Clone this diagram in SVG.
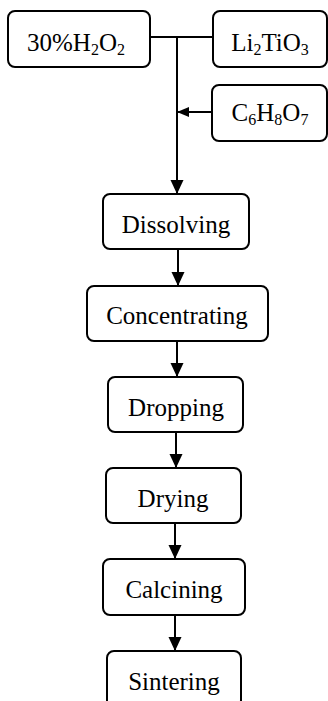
<svg xmlns="http://www.w3.org/2000/svg" width="328" height="701" viewBox="0 0 328 701">
<defs>
<style>
.box{fill:#fff;stroke:#000;stroke-width:2}
.t{font-family:"Liberation Serif","Times New Roman",serif;font-size:25px;fill:#000;text-anchor:middle}
.s{font-size:16px}
.c{stroke:#000;stroke-width:2;fill:none}
</style>
<marker id="ah" markerUnits="userSpaceOnUse" markerWidth="14" markerHeight="16" viewBox="0 0 14 16" refX="13" refY="8" orient="auto">
<path d="M0,1.5 L14,8 L0,14.5 Z" fill="#000"/>
</marker>
<marker id="ahs" markerUnits="userSpaceOnUse" markerWidth="12" markerHeight="12" viewBox="0 0 12 12" refX="11" refY="6" orient="auto">
<path d="M0,1 L12,6 L0,11 Z" fill="#000"/>
</marker>
</defs>
<rect width="328" height="701" fill="#fff"/>
<g id="connectors">
<path class="c" d="M150,37 H213"/>
<path class="c" d="M177,37 V193" marker-end="url(#ah)"/>
<path class="c" d="M212,112 H178" marker-end="url(#ahs)"/>
<path class="c" d="M178,249 V285" marker-end="url(#ah)"/>
<path class="c" d="M177,341 V376" marker-end="url(#ah)"/>
<path class="c" d="M176,432 V467" marker-end="url(#ah)"/>
<path class="c" d="M175,523 V558" marker-end="url(#ah)"/>
<path class="c" d="M175,615 V650" marker-end="url(#ah)"/>
</g>
<g id="n-h2o2">
<rect class="box" x="8" y="11" width="142" height="56" rx="7"/>
<text class="t" x="76" y="51">30%H<tspan class="s" dy="4">2</tspan><tspan dy="-4">O</tspan><tspan class="s" dy="4">2</tspan></text>
</g>
<g id="n-li2tio3">
<rect class="box" x="213" y="11" width="114" height="56" rx="7"/>
<text class="t" x="270" y="51">Li<tspan class="s" dy="4">2</tspan><tspan dy="-4">TiO</tspan><tspan class="s" dy="4">3</tspan></text>
</g>
<g id="n-c6h8o7">
<rect class="box" x="212" y="85" width="115" height="56" rx="7"/>
<text class="t" x="270" y="121">C<tspan class="s" dy="4">6</tspan><tspan dy="-4">H</tspan><tspan class="s" dy="4">8</tspan><tspan dy="-4">O</tspan><tspan class="s" dy="4">7</tspan></text>
</g>
<g id="n-dissolving">
<rect class="box" x="103" y="194" width="146" height="55" rx="7"/>
<text class="t" x="176" y="233">Dissolving</text>
</g>
<g id="n-concentrating">
<rect class="box" x="87" y="286" width="181" height="55" rx="7"/>
<text class="t" x="177" y="324">Concentrating</text>
</g>
<g id="n-dropping">
<rect class="box" x="108" y="377" width="135" height="55" rx="7"/>
<text class="t" x="176" y="416">Dropping</text>
</g>
<g id="n-drying">
<rect class="box" x="106" y="468" width="135" height="55" rx="7"/>
<text class="t" x="173" y="507">Drying</text>
</g>
<g id="n-calcining">
<rect class="box" x="103" y="559" width="142" height="56" rx="7"/>
<text class="t" x="174" y="598">Calcining</text>
</g>
<g id="n-sintering">
<rect class="box" x="107" y="651" width="134" height="56" rx="7"/>
<text class="t" x="174" y="690">Sintering</text>
</g>
</svg>
